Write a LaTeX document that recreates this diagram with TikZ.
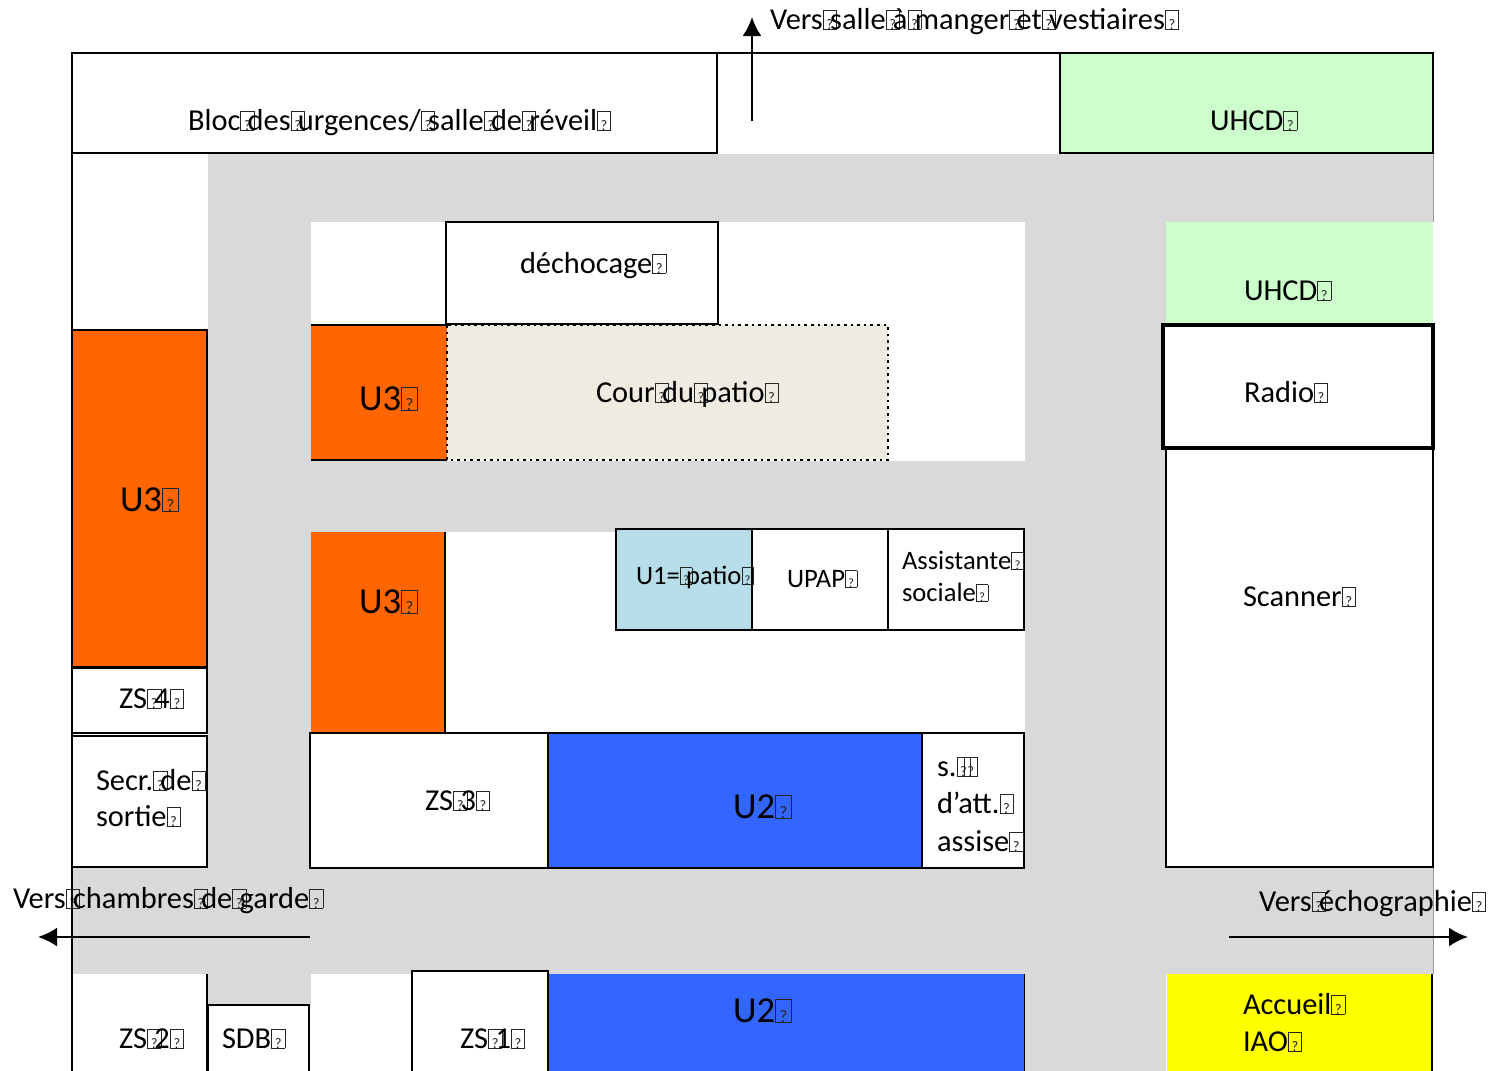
\documentclass[tikz,border=0pt]{standalone}
\usepackage{fontspec}
\setmainfont{Carlito}
\newcommand{\tf}{\rlap{\fboxsep=0pt\fboxrule=0.3pt\color{black!85}\fbox{\makebox[.42em]{\rule{0pt}{.6em}\scalebox{.48}{?}}}}\hspace{.24em}}
\definecolor{corr}{HTML}{D9D9D9}
\definecolor{uorange}{HTML}{FF6600}
\definecolor{ugreen}{HTML}{CCFFCC}
\definecolor{ublue}{HTML}{3366FF}
\definecolor{ulight}{HTML}{B7DEE8}
\definecolor{ucour}{HTML}{EEECE1}
\definecolor{uyellow}{HTML}{FFFF00}
\tikzset{
  x=0.5pt,y=-0.5pt,
  wall/.style={draw=black,line width=1.4pt},
  thin wall/.style={draw=black,line width=1.25pt},
  thick wall/.style={draw=black,line width=1.7pt},
  lab/.style={anchor=base west,inner sep=0pt,outer sep=0pt,yshift=-0.5pt,font=\fontsize{15.2pt}{17pt}\selectfont,text=black},
  smalllab/.style={lab,font=\fontsize{13.3pt}{15pt}\selectfont},
  biglab/.style={lab,font=\fontsize{18.3pt}{20pt}\selectfont},
  flow/.style={draw=black,line width=1.25pt,-{Latex[length=9.5pt,width=9.5pt]}},
}
\usetikzlibrary{arrows.meta}
\begin{document}
\begin{tikzpicture}
\useasboundingbox (0,0) rectangle (1495,1071);
% corridors
\fill[corr] (208,154) rectangle (1433,222);
\fill[corr] (208,154) rectangle (311,1005);
\fill[corr] (311,461) rectangle (1166,532);
\fill[corr] (1025,222) rectangle (1166,1071);
\fill[corr] (72,868) rectangle (1433,974);
\draw[black!60,line width=.4pt] (72,868) -- (72,974);
\draw[black!40,line width=.4pt] (1433,154) -- (1433,222);
\draw[black!40,line width=.4pt] (1433,868) -- (1433,974);
% outer walls
\draw[wall] (72,1071) -- (72,53) -- (1433,53) -- (1433,154);
\draw[wall] (72,53) rectangle (717,153);
\fill[ugreen] (1060,53) rectangle (1433,153);
\draw[wall] (1060,53) rectangle (1433,153);
% central block
\draw[thin wall,fill=white] (446,222) rectangle (718,324);
\fill[uorange] (311,325) rectangle (447,460);
\draw[wall] (311,325) -- (447,325);
\draw[wall] (311,460) -- (447,460);
\draw[draw=black,line width=1.3pt,dotted,fill=ucour] (447,325) rectangle (888,460);
% right column
\fill[ugreen] (1166,222) rectangle (1433,324);
\draw[thick wall,fill=white] (1163,325) rectangle (1433,448);
\draw[thin wall] (1166,448) -- (1166,867) -- (1433,867) -- (1433,448);
% left column
\draw[wall,fill=uorange] (72,330) rectangle (207,667);
\draw[thin wall,fill=white] (72,668) rectangle (207,733);
\draw[thin wall,fill=white] (72,736) rectangle (207,867);
% middle block
\fill[uorange] (311,532) rectangle (445,732);
\draw[thin wall] (445,532) -- (445,733);
\draw[wall,fill=ulight] (616,529) rectangle (752,630);
\draw[wall,fill=white] (752,529) rectangle (888,630);
\draw[wall,fill=white] (888,529) rectangle (1024,630);
\draw[wall,fill=white] (310,733) rectangle (548,868);
\draw[wall,fill=ublue] (548,733) rectangle (922,868);
\draw[wall,fill=white] (922,733) rectangle (1024,868);
% bottom row
\draw[thin wall] (207,974) -- (207,1071);
\draw[thin wall,fill=white] (208,1005) rectangle (309,1075);
\draw[thin wall,fill=white] (412,971) rectangle (548,1075);
\fill[ublue] (548,974) rectangle (1024,1071);
\draw[wall] (548,974) -- (548,1071);
\draw[draw=black,line width=.5pt] (1024,974) -- (1024,1071);
\fill[uyellow] (1167,974) rectangle (1431,1071);
\draw[wall] (1432,974) -- (1432,1071);
% arrows
\coordinate (upA) at (752,121); \coordinate (upB) at (752,17);
\coordinate (leftA) at (310,937); \coordinate (leftB) at (38,937);
\coordinate (rightA) at (1229,937); \coordinate (rightB) at (1468,937);
\draw[flow] (upA) -- (upB);
\draw[flow] (leftA) -- (leftB);
\draw[flow] (rightA) -- (rightB);
% labels
\node[lab] (t1) at (770,28) {Vers\tf salle\tf à\tf manger\tf et\tf vestiaires\tf};
\node[lab] (t2) at (188,129) {Bloc\tf des\tf urgences/\tf salle\tf de\tf réveil\tf};
\node[lab] (t3) at (1210,129) {UHCD\tf};
\node[lab] (t4) at (520,272) {déchocage\tf};
\node[lab] (t5) at (1244,299) {UHCD\tf};
\node[biglab] (t6) at (359,409) {U3\tf};
\node[lab] (t7) at (596,401) {Cour\tf du\tf patio\tf};
\node[lab] (t8) at (1244,401) {Radio\tf};
\node[biglab] (t9) at (120,510) {U3\tf};
\node[smalllab] (t10) at (636,583) {U1=\tf patio\tf};
\node[smalllab] (t11) at (787,586) {UPAP\tf};
\node[smalllab] (t12) at (902,568) {Assistante\tf};
\node[smalllab] (t13) at (902,600) {sociale\tf};
\node[biglab] (t14) at (359,612) {U3\tf};
\node[lab] (t15) at (1243,605) {Scanner\tf};
\node[lab] (t16) at (119,707) {ZS\tf 4\tf};
\node[lab] (t17) at (96,789) {Secr.\tf de\tf};
\node[lab] (t18) at (96,825) {sortie\tf};
\node[lab] (t19) at (425,809) {ZS\tf 3\tf};
\node[biglab] (t20) at (733,817) {U2\tf};
\node[lab] (t21) at (937,775) {s.\tf\tf};
\node[lab] (t22) at (937,812) {d’att.\tf};
\node[lab] (t23) at (937,850) {assise\tf};
\node[lab] (t24) at (13,907) {Vers\tf chambres\tf de\tf garde\tf};
\node[lab] (t25) at (1259,910) {Vers\tf échographie\tf};
\node[lab] (t26) at (119,1047) {ZS\tf 2\tf};
\node[lab] (t27) at (222,1047) {SDB\tf};
\node[lab] (t28) at (460,1047) {ZS\tf 1\tf};
\node[biglab] (t29) at (733,1021) {U2\tf};
\node[lab] (t30) at (1243,1013) {Accueil\tf};
\node[lab] (t31) at (1243,1050) {IAO\tf};
\end{tikzpicture}
\end{document}
